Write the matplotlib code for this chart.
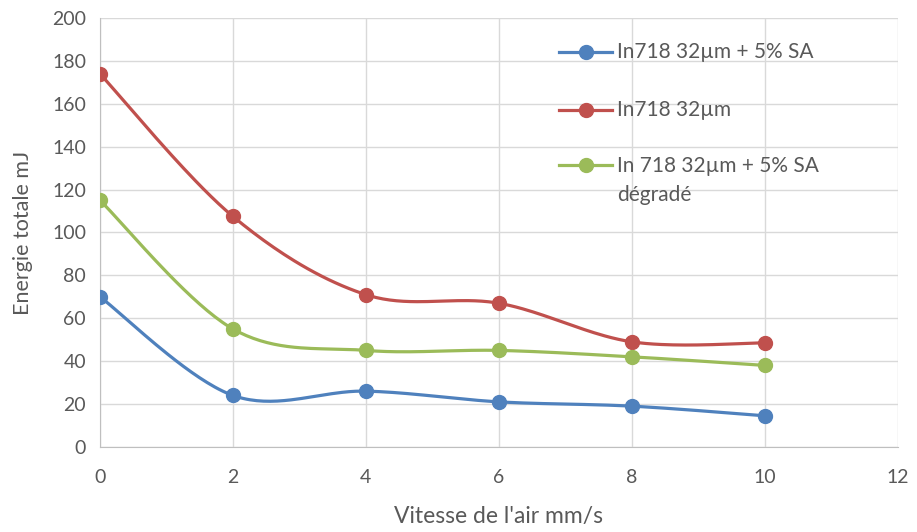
import numpy as np
import matplotlib.pyplot as plt

# data
vitesse = [0, 2, 4, 6, 8, 10]
sa_5 = [70, 24, 26, 21, 19, 14.5]
in718 = [174, 107.5, 71, 67, 49, 48.5]
sa_5_degrade = [115, 55, 45, 45, 42, 38]

labels = ['In718 32µm + 5% SA', 'In718 32µm', 'In 718 32µm + 5% SA\ndégradé']
colors = ['#4F81BD', '#C0504D', '#9BBB59']

plt.rcParams['font.family'] = ['Lato', 'DejaVu Sans']


def smooth(x, y, n=40):
    # Excel-like smoothed line (Catmull-Rom through the points)
    x = np.asarray(x, float)
    y = np.asarray(y, float)
    px = np.concatenate([[x[0]], x, [x[-1]]])
    py = np.concatenate([[y[0]], y, [y[-1]]])
    xs, ys = [], []
    t = np.linspace(0, 1, n)
    for i in range(1, len(px) - 2):
        p0, p1, p2, p3 = px[i - 1:i + 3]
        q0, q1, q2, q3 = py[i - 1:i + 3]
        c1x, c1y = p1 + (p2 - p0) / 6, q1 + (q2 - q0) / 6
        c2x, c2y = p2 - (p3 - p1) / 6, q2 - (q3 - q1) / 6
        bx = (1-t)**3*p1 + 3*(1-t)**2*t*c1x + 3*(1-t)*t**2*c2x + t**3*p2
        by = (1-t)**3*q1 + 3*(1-t)**2*t*c1y + 3*(1-t)*t**2*c2y + t**3*q2
        xs.extend(bx)
        ys.extend(by)
    return xs, ys


fig = plt.figure(figsize=(9.17, 5.32), dpi=100)
ax = fig.add_axes([0.109, 0.160, 0.870, 0.806])

for serie, col in zip([sa_5, in718, sa_5_degrade], colors):
    sx, sy = smooth(vitesse, serie)
    ax.plot(sx, sy, color=col, lw=2.3, solid_capstyle='round', zorder=3)
    ax.plot(vitesse, serie, 'o', color=col, ms=10, zorder=4)

ax.set_xlim(0, 12)
ax.set_ylim(0, 200)
ax.set_xticks(range(0, 13, 2))
ax.set_yticks(range(0, 201, 20))
ax.grid(True, color='#d9d9d9', lw=1)
ax.set_axisbelow(True)
for s in ['top', 'right']:
    ax.spines[s].set_visible(False)
for s in ['left', 'bottom']:
    ax.spines[s].set_color('#bfbfbf')
ax.tick_params(length=0, colors='#595959', labelsize=14, pad=10)
ax.tick_params(axis='x', pad=16)

ax.set_xlabel("Vitesse de l'air mm/s", fontsize=16.5, color='#595959', labelpad=14)
ax.set_ylabel('Energie totale mJ', fontsize=15.5, color='#595959', labelpad=14)

# legend drawn by hand, Excel style (wide spacing, wrapped label)
leg_y = [0.921, 0.786, 0.657]
for lab, col, y in zip(labels, colors, leg_y):
    ax.plot([0.576, 0.642], [y, y], color=col, lw=2.3, transform=ax.transAxes,
            clip_on=False, zorder=5)
    ax.plot([0.609], [y], 'o', color=col, ms=10, transform=ax.transAxes,
            clip_on=False, zorder=6)
    if '\n' in lab:
        ax.text(0.648, y + 0.021, lab, transform=ax.transAxes, va='top',
                ha='left', fontsize=15, color='#595959', linespacing=1.55)
    else:
        ax.text(0.648, y, lab, transform=ax.transAxes, va='center',
                ha='left', fontsize=15, color='#595959')

fig.savefig('out.png', dpi=100)
